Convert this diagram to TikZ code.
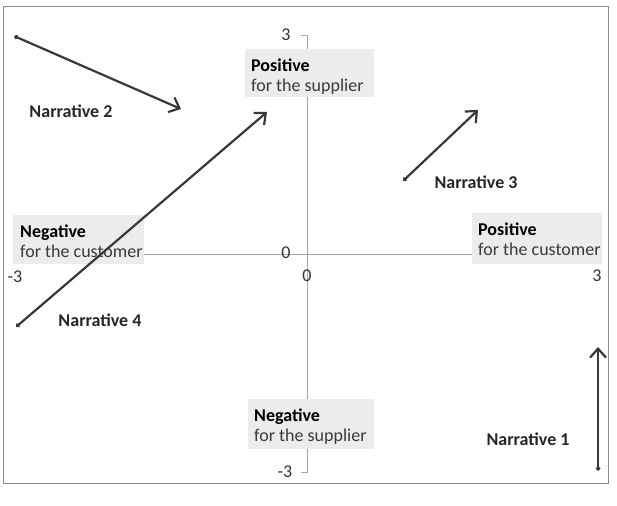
\documentclass[tikz,border=0pt]{standalone}
\usepackage{fontspec}
\setmainfont{Carlito}
\usetikzlibrary{arrows.meta}
\definecolor{arrowgray}{HTML}{383838}
\definecolor{axisgray}{HTML}{A8A8A8}
\definecolor{framegray}{HTML}{8C8C8C}
\definecolor{boxgray}{HTML}{ECECEC}
\definecolor{txtgray}{HTML}{3A3A3A}
\tikzset{
  quadbox/.style={fill=boxgray, draw=none, anchor=north west, inner sep=0pt},
  quadtext/.style={anchor=north west, align=left, inner sep=0pt,
    font=\fontsize{18}{20}\selectfont, text=txtgray},
  narr/.style={font=\fontsize{18}{20}\selectfont\bfseries, text=black!85, inner sep=0pt},
  tick/.style={font=\fontsize{18}{20}\selectfont, text=black!80, inner sep=0pt},
  axisline/.style={draw=axisgray, line width=0.8pt},
  narrarrow/.style={draw=arrowgray, line width=2.2pt,
    {Diamond[length=5pt,width=5pt]}-{Straight Barb[length=9pt,width=16pt,line width=2.2pt]}}
}
\begin{document}
\begin{tikzpicture}[x=1pt,y=-1pt]
\useasboundingbox (0,0) rectangle (617,505);
% frame
\draw[framegray, line width=0.8pt] (3,6) rectangle (608,483);
% axes
\coordinate (vtop) at (307,35);
\coordinate (vbot) at (307,472);
\coordinate (vtopt) at (301,35);
\coordinate (vbott) at (301,472);
\coordinate (hleft) at (13,254);
\coordinate (hright) at (598,254);
\draw[axisline] (vtopt) -- (vtop) -- (vbot) -- (vbott);
\draw[axisline] (hleft) -- (hright);
% tick labels
\node[tick] (t3v) at (286,35) {3};
\node[tick] (tm3v) at (285,472) {-3};
\node[tick] (t0v) at (286,253) {0};
\node[tick] (t0h) at (307,276) {0};
\node[tick] (tm3h) at (15,277) {-3};
\node[tick] (t3h) at (597,276) {3};
% quadrant boxes
\node[quadbox, minimum width=129pt, minimum height=48pt] (ps) at (245,49) {};
\node[quadbox, minimum width=131pt, minimum height=49pt] (nc) at (13,215) {};
\node[quadbox, minimum width=130pt, minimum height=51pt] (pc) at (472,213) {};
\node[quadbox, minimum width=126pt, minimum height=50pt] (ns) at (248,399) {};
\node[quadtext] (pst) at ([xshift=6pt,yshift=-10pt]ps.north west)
  {\textcolor{black}{\bfseries Positive}\\for the supplier};
\node[quadtext] (nct) at ([xshift=7pt,yshift=-10pt]nc.north west)
  {\textcolor{black}{\bfseries Negative}\\for the customer};
\node[quadtext] (pct) at ([xshift=6pt,yshift=-10pt]pc.north west)
  {\textcolor{black}{\bfseries Positive}\\for the customer};
\node[quadtext] (nst) at ([xshift=6pt,yshift=-10pt]ns.north west)
  {\textcolor{black}{\bfseries Negative}\\for the supplier};
% narrative labels
\node[narr] (n2) at (71,111) {Narrative 2};
\node[narr] (n3) at (476,182) {Narrative 3};
\node[narr] (n4) at (100,320) {Narrative 4};
\node[narr] (n1) at (528,439) {Narrative 1};
% arrows
\coordinate (a2s) at (14,36);
\coordinate (a2e) at (181,109);
\coordinate (a4s) at (16,327);
\coordinate (a4e) at (267,112);
\coordinate (a3s) at (403,181);
\coordinate (a3e) at (478,110);
\coordinate (a1s) at (598,471);
\coordinate (a1e) at (598,347);
\draw[narrarrow] (a2s) -- (a2e);
\draw[narrarrow] (a4s) -- (a4e);
\draw[narrarrow] (a3s) -- (a3e);
\draw[narrarrow] (a1s) -- (a1e);
\end{tikzpicture}
\end{document}
